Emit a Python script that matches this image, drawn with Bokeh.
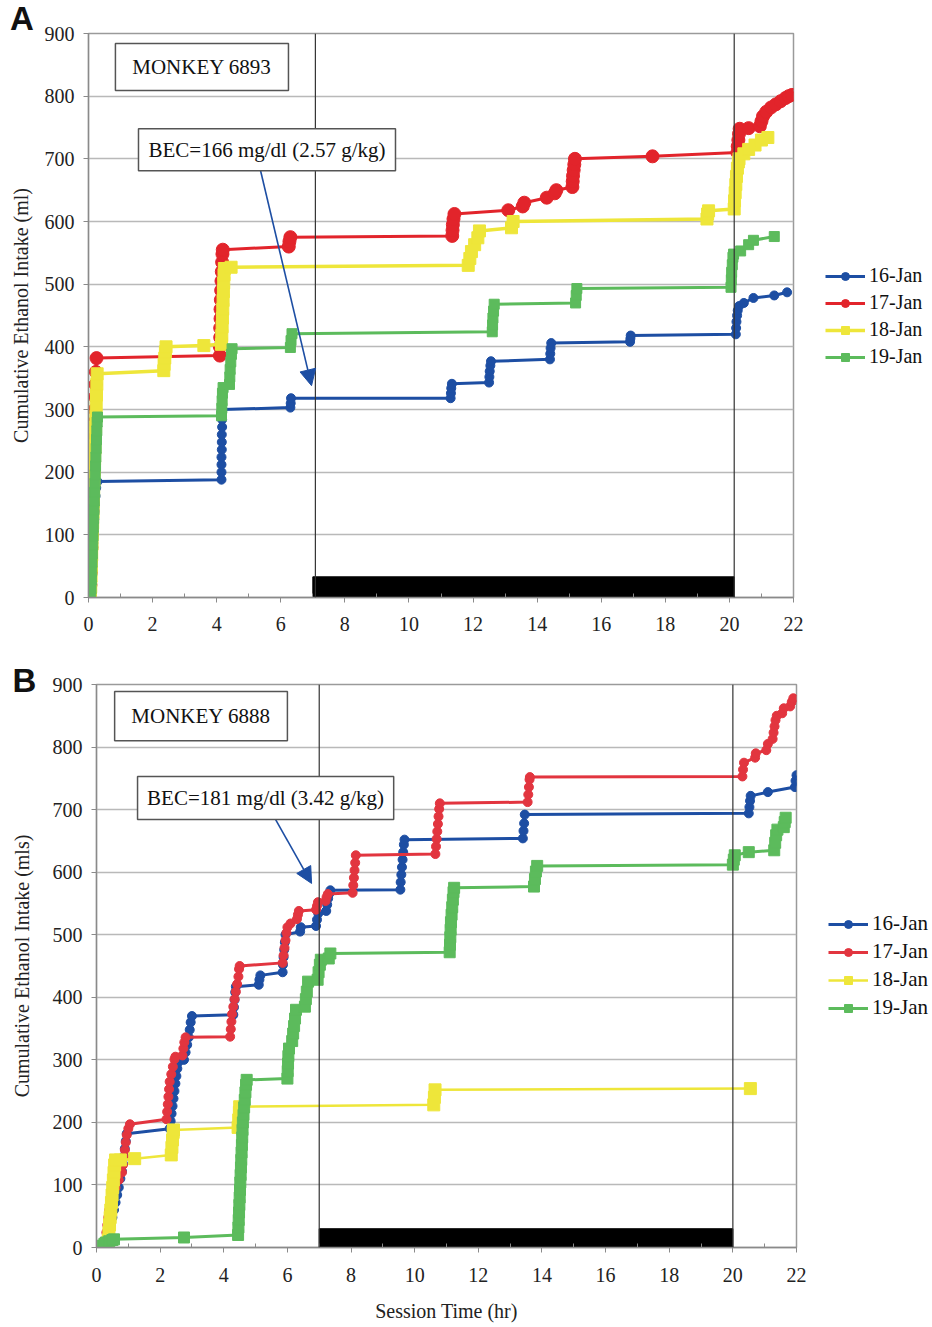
from bokeh.plotting import figure
from bokeh.models import (Legend, LegendItem, Span, BoxAnnotation, Label, Arrow,
                          NormalHead, Range1d, FixedTicker)
from bokeh.embed import file_html
from bokeh.resources import INLINE

SERIF = "Liberation Serif"
series_labels = ["16-Jan", "17-Jan", "18-Jan", "19-Jan"]
x_ticks = list(range(0, 23, 2))
x_minor = list(range(1, 23, 2))
y_ticks = list(range(0, 901, 100))

# ---------------- Panel A : Monkey 6893  (time hr, cumulative ml) ----------------
A16 = [(0.08, 0), (0.09, 12), (0.1, 25), (0.11, 37), (0.12, 50), (0.13, 62), (0.14, 75),
       (0.15, 87), (0.16, 100), (0.17, 112), (0.18, 125), (0.19, 137), (0.2, 150),
       (0.22, 162), (0.24, 175), (0.28, 185),
       (4.15, 188), (4.15, 200), (4.15, 212), (4.15, 224), (4.16, 236), (4.16, 248),
       (4.16, 260), (4.17, 272), (4.17, 284), (4.17, 296), (4.18, 300),
       (6.3, 303), (6.31, 310), (6.32, 318),
       (11.3, 318), (11.31, 326), (11.32, 334), (11.34, 341),
       (12.5, 343), (12.51, 352), (12.52, 361), (12.54, 370), (12.56, 377),
       (14.4, 380), (14.41, 389), (14.42, 398), (14.44, 406),
       (16.9, 408), (16.91, 413), (16.92, 418),
       (20.2, 420), (20.21, 430), (20.22, 440), (20.24, 450), (20.26, 458), (20.3, 465),
       (20.45, 470), (20.75, 478), (21.4, 482), (21.8, 487)]

A17 = [(0.05, 0), (0.06, 20), (0.07, 40), (0.08, 60), (0.09, 80), (0.1, 100), (0.11, 120),
       (0.12, 140), (0.13, 160), (0.14, 180), (0.15, 200), (0.16, 220), (0.17, 240),
       (0.18, 260), (0.19, 280), (0.2, 300), (0.21, 320), (0.22, 340), (0.23, 360),
       (0.25, 382),
       (4.1, 386), (4.1, 400), (4.11, 415), (4.11, 430), (4.12, 445), (4.12, 460),
       (4.13, 475), (4.14, 490), (4.15, 505), (4.16, 520), (4.17, 535), (4.18, 548),
       (4.19, 555),
       (6.25, 560), (6.27, 568), (6.3, 575),
       (11.35, 577), (11.36, 586), (11.37, 595), (11.39, 604), (11.42, 612),
       (13.1, 618), (13.55, 624), (13.6, 630), (14.3, 638), (14.55, 645), (14.6, 650),
       (15.1, 655), (15.11, 664), (15.12, 673), (15.14, 682), (15.16, 691), (15.18, 700),
       (17.6, 704),
       (20.25, 710), (20.26, 720), (20.28, 730), (20.3, 740), (20.32, 748),
       (20.6, 749), (20.95, 752), (21.0, 760), (21.05, 768), (21.15, 775), (21.3, 782),
       (21.45, 787), (21.6, 792), (21.75, 797), (21.85, 800), (21.95, 802)]

A18 = [(0.06, 0), (0.07, 17), (0.08, 34), (0.09, 51), (0.1, 68), (0.11, 85), (0.12, 102),
       (0.13, 119), (0.14, 136), (0.15, 153), (0.16, 170), (0.17, 187), (0.18, 204),
       (0.19, 221), (0.2, 238), (0.21, 255), (0.22, 272), (0.23, 289), (0.24, 306),
       (0.25, 323), (0.26, 340), (0.27, 357),
       (2.35, 362), (2.36, 372), (2.38, 382), (2.4, 392), (2.42, 400),
       (3.6, 402),
       (4.15, 404), (4.16, 418), (4.17, 432), (4.18, 446), (4.19, 460), (4.2, 474),
       (4.21, 488), (4.22, 502), (4.23, 515), (4.24, 525),
       (4.45, 527),
       (11.85, 530), (11.9, 541), (11.95, 552), (12.05, 563), (12.15, 574), (12.2, 585),
       (13.2, 590), (13.25, 600),
       (19.3, 604), (19.32, 612), (19.35, 617),
       (20.15, 620), (20.16, 633), (20.18, 646), (20.2, 659), (20.22, 672), (20.25, 685),
       (20.28, 695), (20.3, 700),
       (20.45, 708), (20.6, 715), (20.8, 722), (21.0, 730), (21.2, 734)]

A19 = [(0.07, 0), (0.08, 14), (0.09, 28), (0.1, 42), (0.11, 56), (0.12, 70), (0.13, 84),
       (0.14, 98), (0.15, 112), (0.16, 126), (0.17, 140), (0.18, 154), (0.19, 168),
       (0.2, 182), (0.21, 196), (0.22, 210), (0.23, 224), (0.24, 238), (0.25, 252),
       (0.26, 266), (0.27, 280), (0.28, 288),
       (4.15, 290), (4.16, 302), (4.17, 314), (4.18, 326), (4.2, 335),
       (4.4, 340), (4.41, 352), (4.42, 364), (4.44, 376), (4.46, 388), (4.48, 397),
       (6.3, 399), (6.32, 410), (6.35, 421),
       (12.6, 424), (12.61, 435), (12.62, 446), (12.64, 457), (12.66, 468),
       (15.2, 470), (15.22, 482), (15.24, 493),
       (20.05, 495), (20.06, 507), (20.07, 519), (20.09, 531), (20.11, 543), (20.13, 548),
       (20.35, 553), (20.6, 563), (20.75, 570), (21.4, 576)]

# ---------------- Panel B : Monkey 6888  (time hr, cumulative ml) ----------------
B16 = [(0.3, 0), (0.35, 12), (0.4, 24), (0.45, 36), (0.5, 48), (0.55, 60), (0.6, 72),
       (0.65, 84), (0.7, 96), (0.75, 110), (0.8, 122), (0.83, 134), (0.86, 146),
       (0.89, 158), (0.92, 170), (0.95, 182),
       (2.3, 190), (2.33, 202), (2.36, 214), (2.39, 226), (2.42, 238), (2.45, 250),
       (2.48, 262), (2.51, 274), (2.54, 286), (2.57, 296),
       (2.75, 300), (2.8, 312), (2.85, 324), (2.9, 336), (2.93, 348), (2.96, 360), (3.0, 370),
       (4.3, 372), (4.32, 384), (4.34, 396), (4.36, 408), (4.38, 417),
       (5.1, 420), (5.12, 428), (5.15, 435),
       (5.85, 440), (5.86, 452), (5.88, 464), (5.9, 476), (5.92, 488), (5.94, 500),
       (6.4, 505), (6.42, 512),
       (6.9, 514), (6.93, 524), (6.97, 534),
       (7.22, 538), (7.25, 548), (7.28, 558), (7.32, 566), (7.35, 571),
       (9.55, 572), (9.56, 584), (9.58, 596), (9.6, 608), (9.62, 620), (9.64, 632),
       (9.66, 644), (9.68, 652),
       (13.4, 654), (13.42, 666), (13.44, 678), (13.46, 692),
       (20.5, 694), (20.52, 704), (20.54, 714), (20.56, 722),
       (21.1, 728), (21.95, 736), (21.97, 746), (22.0, 755)]

B17 = [(0.25, 0), (0.28, 12), (0.31, 24), (0.34, 36), (0.37, 48), (0.4, 60), (0.45, 72),
       (0.5, 84), (0.6, 96), (0.7, 108), (0.8, 120), (0.83, 132), (0.86, 144),
       (0.89, 156), (0.92, 168), (0.95, 180), (1.0, 190), (1.05, 197),
       (2.2, 205), (2.22, 217), (2.24, 229), (2.26, 241), (2.28, 253), (2.3, 265),
       (2.35, 277), (2.4, 289), (2.45, 301), (2.48, 305),
       (2.7, 307), (2.73, 318), (2.76, 328), (2.8, 336),
       (4.2, 337), (4.22, 349), (4.24, 361), (4.26, 373), (4.3, 385), (4.34, 397),
       (4.38, 409), (4.42, 421), (4.46, 433), (4.48, 445), (4.5, 450),
       (5.85, 455), (5.88, 467), (5.91, 479), (5.94, 491), (5.97, 503), (6.0, 512), (6.1, 518),
       (6.3, 525), (6.33, 532), (6.36, 538),
       (6.9, 540), (6.93, 546), (6.96, 552),
       (7.2, 554), (7.23, 560), (7.27, 565),
       (8.05, 567), (8.07, 579), (8.09, 591), (8.11, 603), (8.13, 615), (8.15, 627),
       (10.65, 629), (10.67, 641), (10.69, 653), (10.71, 665), (10.73, 677), (10.75, 689),
       (10.77, 701), (10.79, 710),
       (13.55, 712), (13.57, 724), (13.59, 736), (13.61, 748), (13.62, 752),
       (20.3, 753), (20.32, 764), (20.35, 775),
       (20.7, 783), (20.72, 790), (21.05, 795), (21.1, 805),
       (21.25, 813), (21.28, 823), (21.31, 833), (21.34, 843), (21.38, 850),
       (21.55, 854), (21.6, 862), (21.8, 865), (21.85, 872), (21.9, 878)]

B18 = [(0.35, 0), (0.37, 12), (0.39, 24), (0.41, 36), (0.43, 48), (0.45, 60), (0.47, 72),
       (0.49, 84), (0.51, 96), (0.53, 108), (0.55, 120), (0.57, 132), (0.6, 140),
       (0.75, 140), (1.2, 142),
       (2.35, 148), (2.37, 160), (2.39, 172), (2.41, 184), (2.42, 188),
       (4.45, 192), (4.47, 204), (4.49, 216), (4.5, 225),
       (10.6, 228), (10.62, 240), (10.64, 252),
       (20.55, 254)]

B19 = [(0.2, 3), (0.25, 6), (0.3, 8), (0.4, 10), (0.5, 12), (0.55, 13), (2.75, 16),
       (4.45, 20), (4.46, 32), (4.47, 44), (4.48, 56), (4.49, 68), (4.5, 80), (4.51, 92),
       (4.52, 104), (4.53, 116), (4.54, 128), (4.55, 140), (4.56, 152), (4.57, 164),
       (4.58, 176), (4.59, 188), (4.6, 200), (4.62, 212), (4.64, 224), (4.66, 236),
       (4.68, 248), (4.7, 260), (4.72, 268),
       (6.0, 270), (6.01, 282), (6.02, 294), (6.03, 306), (6.05, 318),
       (6.15, 330), (6.18, 342), (6.21, 354), (6.24, 366), (6.27, 380),
       (6.55, 385), (6.58, 397), (6.61, 409), (6.65, 425),
       (6.95, 428), (6.98, 440), (7.02, 452), (7.05, 460),
       (7.3, 462), (7.35, 470),
       (11.1, 472), (11.11, 484), (11.12, 496), (11.13, 508), (11.14, 520), (11.16, 532),
       (11.18, 544), (11.2, 556), (11.22, 568), (11.24, 575),
       (13.75, 577), (13.78, 589), (13.81, 601), (13.85, 610),
       (20.0, 612), (20.03, 620), (20.06, 627), (20.5, 632),
       (21.3, 635), (21.33, 647), (21.36, 659), (21.4, 668),
       (21.6, 672), (21.63, 680), (21.66, 687)]

BLUE = "#1d4ea3"
GREEN = "#5cbb5c"
YELLOW = "#eee63a"


def panel(letter, series, colors, markers, sizes, lwidths, monkey, bec,
          bec_box, monkey_box, arrow, dark, lines_x, border, frame, xlabel,
          legend_spacing, legend_font, legend_loc, letter_pos, ylab,
          tick_standoff, xlab_standoff, ylab_standoff):
    p = figure(frame_width=frame[0], frame_height=frame[1],
               x_range=Range1d(0, 22), y_range=Range1d(0, 900),
               output_backend="svg", toolbar_location=None,
               min_border_left=border[0], min_border_right=border[1],
               min_border_top=border[2], min_border_bottom=border[3])
    p.background_fill_color = "white"
    p.border_fill_color = "white"
    p.outline_line_color = "#9a9a9a"
    p.outline_line_width = 1.5
    p.xgrid.grid_line_color = None
    p.ygrid.grid_line_color = "#b9b9b9"
    p.ygrid.grid_line_width = 1.3
    p.xaxis.ticker = FixedTicker(ticks=x_ticks, minor_ticks=x_minor)
    p.yaxis.ticker = FixedTicker(ticks=y_ticks)
    for ax in (p.xaxis, p.yaxis):
        ax.axis_line_color = "#8a8a8a"
        ax.axis_line_width = 1.3
        ax.major_tick_line_color = "#8a8a8a"
        ax.major_tick_in = 0
        ax.major_tick_out = 5
        ax.major_label_text_font = SERIF
        ax.major_label_text_font_size = "20px"
        ax.major_label_text_color = "#222222"
        ax.axis_label_text_font = SERIF
        ax.axis_label_text_font_size = "20px"
        ax.axis_label_text_font_style = "normal"
        ax.axis_label_text_color = "#222222"
    p.xaxis.minor_tick_line_color = "#8a8a8a"
    p.xaxis.minor_tick_in = 4
    p.xaxis.minor_tick_out = 0
    p.yaxis.minor_tick_line_color = None
    p.xaxis.major_label_standoff = tick_standoff
    p.yaxis.major_label_standoff = 9
    p.yaxis.axis_label = ylab
    p.yaxis.axis_label_standoff = ylab_standoff
    if xlabel:
        p.xaxis.axis_label = xlabel
        p.xaxis.axis_label_standoff = xlab_standoff

    # dark phase bar
    p.quad(left=[dark[0]], right=[dark[1]], bottom=[0], top=[dark[2]],
           color="black")

    items = []
    for pts, lab, col, mk, sz, lw in zip(series, series_labels, colors,
                                         markers, sizes, lwidths):
        t = [q[0] for q in pts]
        v = [q[1] for q in pts]
        r1 = p.line(t, v, line_color=col, line_width=lw)
        r2 = p.scatter(t, v, marker=mk, size=sz, fill_color=col,
                       line_color=col)
        items.append(LegendItem(label=lab, renderers=[r1, r2]))

    for lx in lines_x:
        p.add_layout(Span(location=lx, dimension="height",
                          line_color="#333333", line_width=1.2))

    p.add_layout(Arrow(x_start=arrow[0], y_start=arrow[1], x_end=arrow[2],
                       y_end=arrow[3], line_color=BLUE, line_width=1.6,
                       end=NormalHead(size=16, fill_color=BLUE,
                                      line_color=BLUE)))

    for (l, r, b, t), txt in ((monkey_box, monkey), (bec_box, bec)):
        p.add_layout(BoxAnnotation(left=l, right=r, bottom=b, top=t,
                                   fill_color="white", fill_alpha=1.0,
                                   line_color="#555555", line_width=1.5,
                                   line_alpha=1.0))
        p.add_layout(Label(x=(l + r) / 2, y=(b + t) / 2, text=txt,
                           text_align="center", text_baseline="middle",
                           text_font=SERIF, text_font_size="21px",
                           text_color="#111111"))

    leg = Legend(items=items, location=legend_loc,
                 label_text_font=SERIF, label_text_font_size=legend_font,
                 label_text_color="#111111",
                 glyph_width=40, glyph_height=20, label_height=20,
                 label_standoff=4, spacing=legend_spacing, padding=5,
                 margin=0, background_fill_alpha=0, border_line_alpha=0)
    p.add_layout(leg, "right")

    p.add_layout(Label(x=letter_pos[0], y=letter_pos[1], text=letter,
                       text_font="Liberation Sans", text_font_style="bold",
                       text_font_size="33px", text_color="#111111",
                       text_baseline="alphabetic", y_offset=12), "right")
    return p


pA = panel("A", [A16, A17, A18, A19],
           [BLUE, "#e2242b", YELLOW, GREEN],
           ["circle", "circle", "square", "square"],
           [9, 13, 12, 10], [3, 3, 3.5, 3],
           "MONKEY 6893", "BEC=166 mg/dl (2.57 g/kg)",
           (1.56, 9.58, 681, 748), (0.84, 6.24, 809, 884),
           (5.37, 681, 6.96, 338), (7.0, 20.15, 33), [7.08, 20.15],
           (88, 131, 33, 45), (705, 564), None,
           4, "20px", (27, 224), (-2.45, 905),
           "Cumulative Ethanol Intake (ml)", 14, 10, 10)

pB = panel("B", [B16, B17, B18, B19],
           [BLUE, "#e2353f", YELLOW, GREEN],
           ["circle", "circle", "square", "square"],
           [9, 9, 12, 11], [3, 3, 2.5, 3],
           "MONKEY 6888", "BEC=181 mg/dl (3.42 g/kg)",
           (1.29, 9.34, 684, 753), (0.57, 6.0, 810, 889),
           (5.63, 684, 6.76, 582), (7.0, 20.0, 30), [7.0, 20.0],
           (96, 128, 42, 80), (700, 563), "Session Time (hr)",
           3, "21px", (27, 222), (-2.64, 887),
           "Cumulative Ethanol Intake (mls)", 15, 15, 17)

open("out.html", "w").write(file_html([pA, pB], INLINE))
